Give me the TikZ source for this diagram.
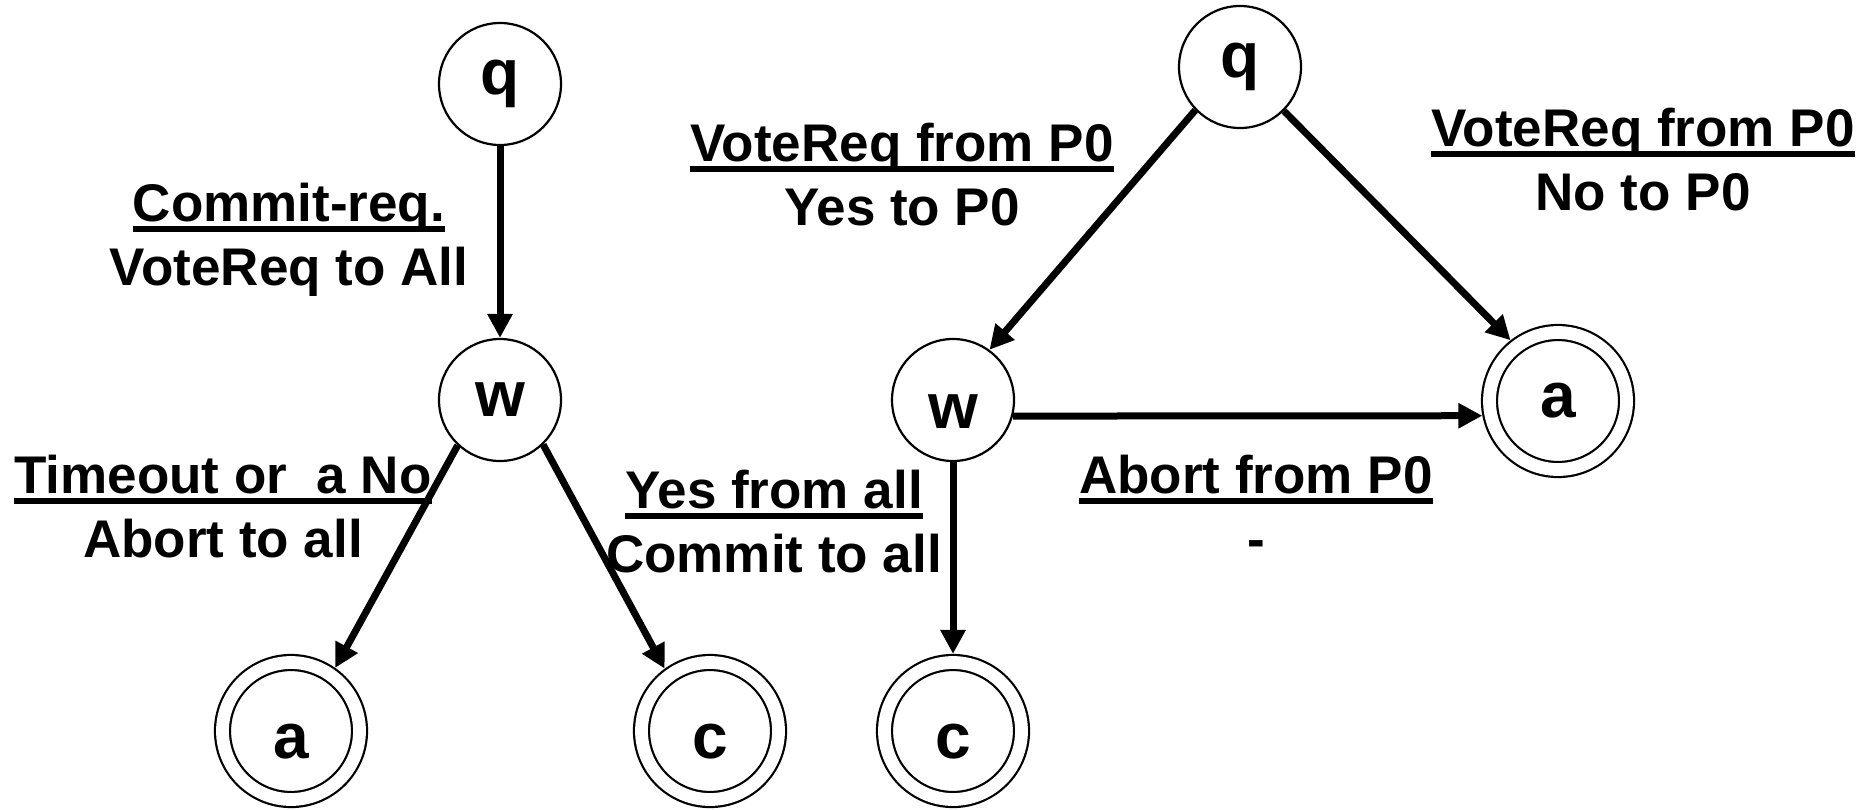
\documentclass[tikz,border=0pt]{standalone}
\usepackage{fontspec}
\setmainfont{Liberation Sans}
\usetikzlibrary{arrows.meta}
\newcommand{\ultext}[1]{\setbox0\hbox{#1}\rlap{\rule[-5.5pt]{\wd0}{3pt}}\box0}
\tikzset{
  state/.style={draw, circle, line width=1.1pt, minimum size=61pt, inner sep=0pt,
    font=\fontsize{32}{36}\selectfont\bfseries},
  accept/.style={state, double, double distance=6.4pt, minimum size=68.5pt, outer sep=4.3pt},
  low/.style={text height=28pt},
  trans/.style={line width=3.5pt, -{Triangle[length=12pt,width=12pt]}},
  txt/.style={align=center, anchor=base, inner sep=0pt, font=\fontsize{26.5}{32}\selectfont\bfseries}
}

\begin{document}
\begin{tikzpicture}[x=0.5pt,y=-0.5pt]
\useasboundingbox (0,0) rectangle (1871,809);
% coordinator
\node[state] (q1) at (500,84) {q};
\node[state] (w1) at (500,400) {w};
\node[accept,low] (a1) at (291,731) {a};
\node[accept,low] (c1) at (710,731) {c};
\draw[trans] (q1.south) -- (w1.north);
\draw[trans] (w1.227) -- (a1.55);
\draw[trans] (w1.314) -- (c1.126);
\node[txt] (cmt) at (289,285) {\ultext{Commit-req.}\\VoteReq to All};
\node[txt] (tmo) at (223,557) {\ultext{Timeout or \ a No}\\Abort to all};
\node[txt] (yes) at (774,572) {\ultext{Yes from all}\\Commit to all};
% participant
\node[state] (q2) at (1240,67) {q};
\node[state,low] (w2) at (953,400) {w};
\node[accept] (a2) at (1558,401) {a};
\node[accept,low] (c2) at (953,731) {c};
\draw[trans] (q2.224) -- (w2.54);
\draw[trans] (q2.315) -- (a2.128);
\draw[trans] (w2.345) -- (a2.191);
\draw[trans] (w2.south) -- (c2.north);
\node[txt] (vyes) at (902,225) {\ultext{VoteReq from P0}\\Yes to P0};
\node[txt] (vno) at (1643,210) {\ultext{VoteReq from P0}\\No to P0};
\node[txt] (abrt) at (1256,557) {\ultext{Abort from P0}\\-};
\end{tikzpicture}
\end{document}
